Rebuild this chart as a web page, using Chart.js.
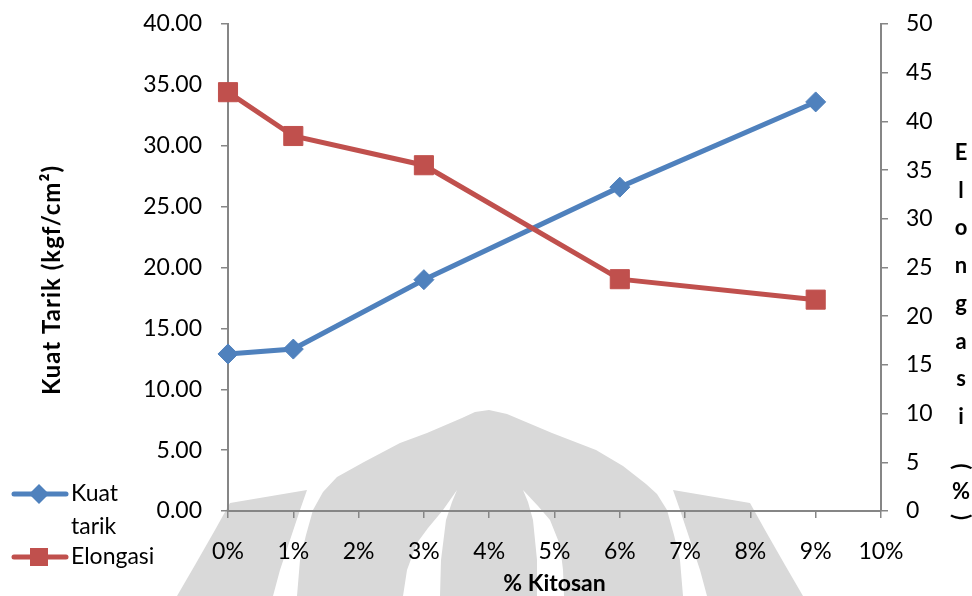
<!DOCTYPE html>
<html>
<head>
<meta charset="utf-8">
<title>Kuat Tarik dan Elongasi vs % Kitosan</title>
<script src="https://cdn.jsdelivr.net/npm/chart.js@4.4.1/dist/chart.umd.min.js"></script>
<style>
  html, body { margin: 0; padding: 0; background: #ffffff; }
  #wrap { width: 972px; height: 596px; position: relative; }
  canvas { display: block; }
</style>
</head>
<body>
<div id="wrap"><canvas id="chart" width="972" height="596"></canvas></div>
<script>
// Chitosan content (%) of each film sample
const kitosan = [0, 1, 3, 6, 9];
// Tensile strength, kgf/cm² (left axis)
const kuatTarik = [12.9, 13.3, 19.0, 26.6, 33.6];
// Elongation at break, % (right axis)
const elongasi = [43.0, 38.5, 35.5, 23.8, 21.7];

const seriesNames = ['Kuat tarik', 'Elongasi'];
const xTitle = '% Kitosan';
const leftTitle = 'Kuat Tarik (kgf/cm\u00B2)';
const rightTitle = 'Elongasi (%)';

const BLUE = '#4F81BD';
const RED = '#C0504D';
const AXIS = '#868686';
const FONT = 'Lato, "Open Sans", sans-serif';
const tickFont = { family: FONT, size: 23 };

const toPoints = (xs, ys) => xs.map((x, i) => ({ x: x, y: ys[i] }));

// vertical axes: fixed width, no extra overflow padding above/below
const fixWidth = w => s => { s.width = w; s.paddingTop = 0; s.paddingBottom = 0; };

// Faint logo watermark plus custom titles and legend
const decor = {
  id: 'decor',
  beforeDraw(chart) {
    const ctx = chart.ctx;
    ctx.save();
    ctx.fillStyle = '#ffffff';
    ctx.fillRect(0, 0, chart.width, chart.height);
    const poly = (pts, color) => {
      ctx.beginPath();
      pts.forEach((p, i) => (i ? ctx.lineTo(p[0], p[1]) : ctx.moveTo(p[0], p[1])));
      ctx.closePath();
      ctx.fillStyle = color;
      ctx.fill();
    };
    const g = '#d9d9d9';
    // central dome
    poly([[489,410],[507,414],[552,433],[596,450],[623,466],[646,484],[657,494],[667,510],
          [674,535],[680,560],[683,596],[297,596],[300,560],[306,535],[313,510],[323,492],
          [337,477],[364,462],[400,443],[427,433],[462,418],[475,412]], g);
    // inner crescents
    poly([[457,490],[443,510],[428,528],[417,543],[407,570],[403,596],[440,596],[441,560],[446,520],[452,502]], '#ffffff');
    poly([[523,490],[538,506],[550,520],[560,545],[563,570],[564,596],[537,596],[537,560],[533,520],[528,502]], '#ffffff');
    // side wings
    poly([[230,503],[307,490],[300,510],[290,540],[280,570],[273,596],[177,596],[195,565],[215,530]], g);
    poly([[750,503],[673,490],[680,510],[690,540],[700,570],[707,596],[803,596],[785,565],[765,530]], g);
    ctx.restore();
  },
  afterDraw(chart) {
    const ctx = chart.ctx;
    const area = chart.chartArea;
    ctx.save();
    ctx.fillStyle = '#000000';

    // x axis title
    ctx.font = 'bold 23px ' + FONT;
    ctx.textAlign = 'center';
    ctx.textBaseline = 'middle';
    ctx.fillText(xTitle, (area.left + area.right) / 2, 584);

    // left axis title, rotated
    ctx.save();
    ctx.font = 'bold 24px ' + FONT;
    ctx.letterSpacing = '1px';
    ctx.translate(52, 280);
    ctx.rotate(-Math.PI / 2);
    ctx.fillText(leftTitle, 0, 0);
    ctx.restore();

    // right axis title, stacked one character per line
    ctx.font = 'bold 22px ' + FONT;
    const cx = 961;
    let base = 160;
    const advance = { ' ': 12, '(': 25.3, '%': 25 };
    for (const ch of rightTitle) {
      if (ch === '(' || ch === ')') {
        ctx.save();
        ctx.translate(cx, base - 7);
        ctx.rotate(Math.PI / 2);
        ctx.textAlign = 'center';
        ctx.textBaseline = 'middle';
        ctx.fillText(ch, 0, 0);
        ctx.restore();
      } else if (ch !== ' ') {
        ctx.textAlign = 'center';
        ctx.textBaseline = 'alphabetic';
        ctx.fillText(ch, cx, base);
      }
      base += advance[ch] !== undefined ? advance[ch] : 37.7;
    }

    // legend
    ctx.font = '23px ' + FONT;
    ctx.textAlign = 'left';
    ctx.textBaseline = 'middle';
    const entry = (y, color, style) => {
      ctx.strokeStyle = color;
      ctx.lineWidth = 5;
      ctx.lineCap = 'round';
      ctx.beginPath();
      ctx.moveTo(14, y);
      ctx.lineTo(66, y);
      ctx.stroke();
      ctx.fillStyle = color;
      ctx.beginPath();
      if (style === 'rectRot') {
        ctx.moveTo(39, y - 10); ctx.lineTo(49, y); ctx.lineTo(39, y + 10); ctx.lineTo(29, y);
      } else {
        ctx.rect(30, y - 9, 18, 18);
      }
      ctx.closePath();
      ctx.fill();
      ctx.fillStyle = '#000000';
    };
    entry(494, BLUE, 'rectRot');
    const kt = seriesNames[0].split(' ');
    ctx.fillText(kt[0], 71, 494);
    ctx.fillText(kt[1], 71, 527);
    entry(557, RED, 'rect');
    ctx.fillText(seriesNames[1], 71, 557);
    ctx.restore();
  }
};

new Chart(document.getElementById('chart'), {
  type: 'line',
  data: {
    datasets: [
      {
        label: seriesNames[0],
        data: toPoints(kitosan, kuatTarik),
        yAxisID: 'y',
        borderColor: BLUE,
        backgroundColor: BLUE,
        borderWidth: 5,
        pointStyle: 'rectRot',
        pointRadius: 10,
        pointBorderWidth: 1,
        pointBackgroundColor: BLUE,
        pointBorderColor: BLUE,
        tension: 0,
        clip: false,
        order: 2
      },
      {
        label: seriesNames[1],
        data: toPoints(kitosan, elongasi),
        yAxisID: 'y1',
        borderColor: RED,
        backgroundColor: RED,
        borderWidth: 5,
        pointStyle: 'rect',
        pointRadius: 13.5,
        pointBorderWidth: 1,
        pointBackgroundColor: RED,
        pointBorderColor: RED,
        tension: 0,
        clip: false,
        order: 1
      }
    ]
  },
  options: {
    responsive: false,
    animation: false,
    events: [],
    layout: { padding: { top: 24, left: 0, right: 0, bottom: 0 } },
    plugins: { legend: { display: false }, tooltip: { enabled: false } },
    scales: {
      x: {
        type: 'linear',
        position: 'bottom',
        min: 0,
        max: 10,
        afterFit: s => { s.height = 85; },
        ticks: {
          stepSize: 1,
          autoSkip: false,
          maxRotation: 0,
          padding: 20,
          color: '#000000',
          font: tickFont,
          callback: v => v + '%'
        },
        grid: { drawOnChartArea: false, drawTicks: true, tickLength: 7, color: AXIS, lineWidth: 1.5 },
        border: { display: true, color: AXIS, width: 2 }
      },
      y: {
        type: 'linear',
        position: 'left',
        min: 0,
        max: 40,
        afterFit: fixWidth(228),
        ticks: {
          stepSize: 5,
          padding: 19,
          color: '#000000',
          font: tickFont,
          callback: v => v.toFixed(2)
        },
        grid: { drawOnChartArea: false, drawTicks: true, tickLength: 7, color: AXIS, lineWidth: 1.5 },
        border: { display: true, color: AXIS, width: 2 }
      },
      y1: {
        type: 'linear',
        position: 'right',
        min: 0,
        max: 50,
        afterFit: fixWidth(91),
        ticks: {
          stepSize: 5,
          padding: 18,
          color: '#000000',
          font: tickFont,
          callback: v => String(v)
        },
        grid: { drawOnChartArea: false, drawTicks: true, tickLength: 7, color: AXIS, lineWidth: 1.5 },
        border: { display: true, color: AXIS, width: 2 }
      }
    }
  },
  plugins: [decor]
});
</script>
</body>
</html>
